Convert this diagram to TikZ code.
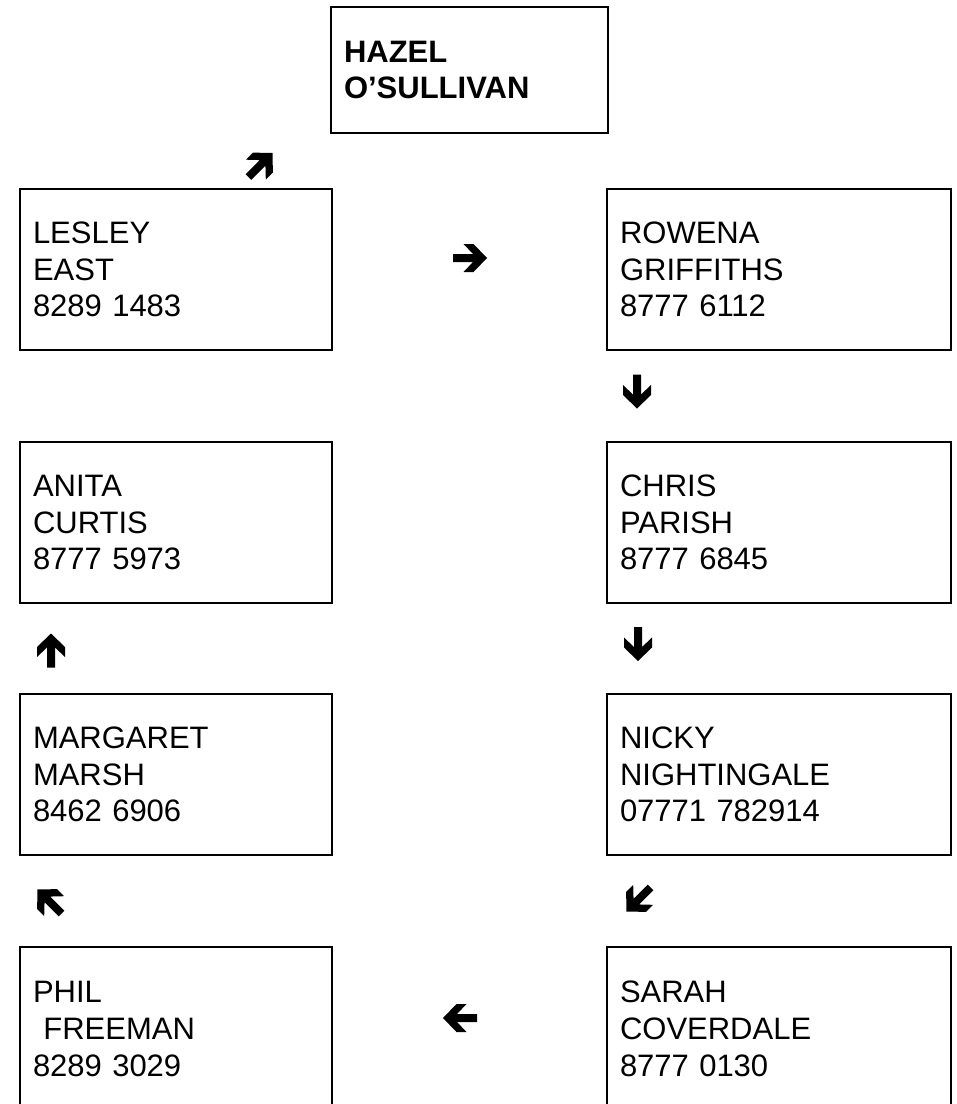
\documentclass[tikz,border=0pt]{standalone}
\usepackage{fontspec}
\setmainfont{Liberation Sans}
\begin{document}
\begin{tikzpicture}[x=1pt,y=-1pt,
  person/.style n args={3}{draw, line width=2pt, minimum width=#1, minimum height=#2,
    text width=#3, inner xsep=13pt, inner ysep=0pt, align=left,
    font=\fontsize{31}{36.7}\selectfont},
  heavyarrow/.pic={\fill[black] (-17,4) -- (3,4) -- (-6.5,14) -- (3.5,14) -- (17,0)
    -- (3.5,-14) -- (-6.5,-14) -- (3,-4) -- (-17,-4) -- cycle;}
]
\useasboundingbox (0,0) rectangle (957,1104);
\fill[white] (0,0) rectangle (957,1104);

\node[person={277pt}{126pt}{251pt}] (hazel) at (469.5,70) {\bfseries HAZEL\\O’SULLIVAN};

\node[person={312pt}{161pt}{286pt}] (lesley) at (176,269.5) {LESLEY\\EAST\\8289 1483};
\node[person={344pt}{161pt}{318pt}] (rowena) at (779,269.5) {ROWENA\\GRIFFITHS\\8777 6112};

\node[person={312pt}{161pt}{286pt}] (anita) at (176,522.5) {ANITA\\CURTIS\\8777 5973};
\node[person={344pt}{161pt}{318pt}] (chris) at (779,522.5) {CHRIS\\PARISH\\8777 6845};

\node[person={312pt}{161pt}{286pt}] (margaret) at (176,774.5) {MARGARET\\MARSH\\8462 6906};
\node[person={344pt}{161pt}{318pt}] (nicky) at (779,774.5) {NICKY\\NIGHTINGALE\\07771 782914};

\node[person={312pt}{164pt}{286pt}] (phil) at (176,1029) {PHIL\\\mbox{\ }FREEMAN\\8289 3029};
\node[person={344pt}{164pt}{318pt}] (sarah) at (779,1029) {SARAH\\COVERDALE\\8777 0130};

\pic[rotate=45] at (260.5,165) {heavyarrow};
\pic at (470,258) {heavyarrow};
\pic[rotate=-90] at (637,391.5) {heavyarrow};
\pic[rotate=-90] at (638,644) {heavyarrow};
\pic[rotate=90] at (51,650.5) {heavyarrow};
\pic[rotate=135] at (49.5,901.5) {heavyarrow};
\pic[rotate=-135] at (638.5,899.5) {heavyarrow};
\pic[rotate=180] at (460,1018) {heavyarrow};
\end{tikzpicture}
\end{document}
